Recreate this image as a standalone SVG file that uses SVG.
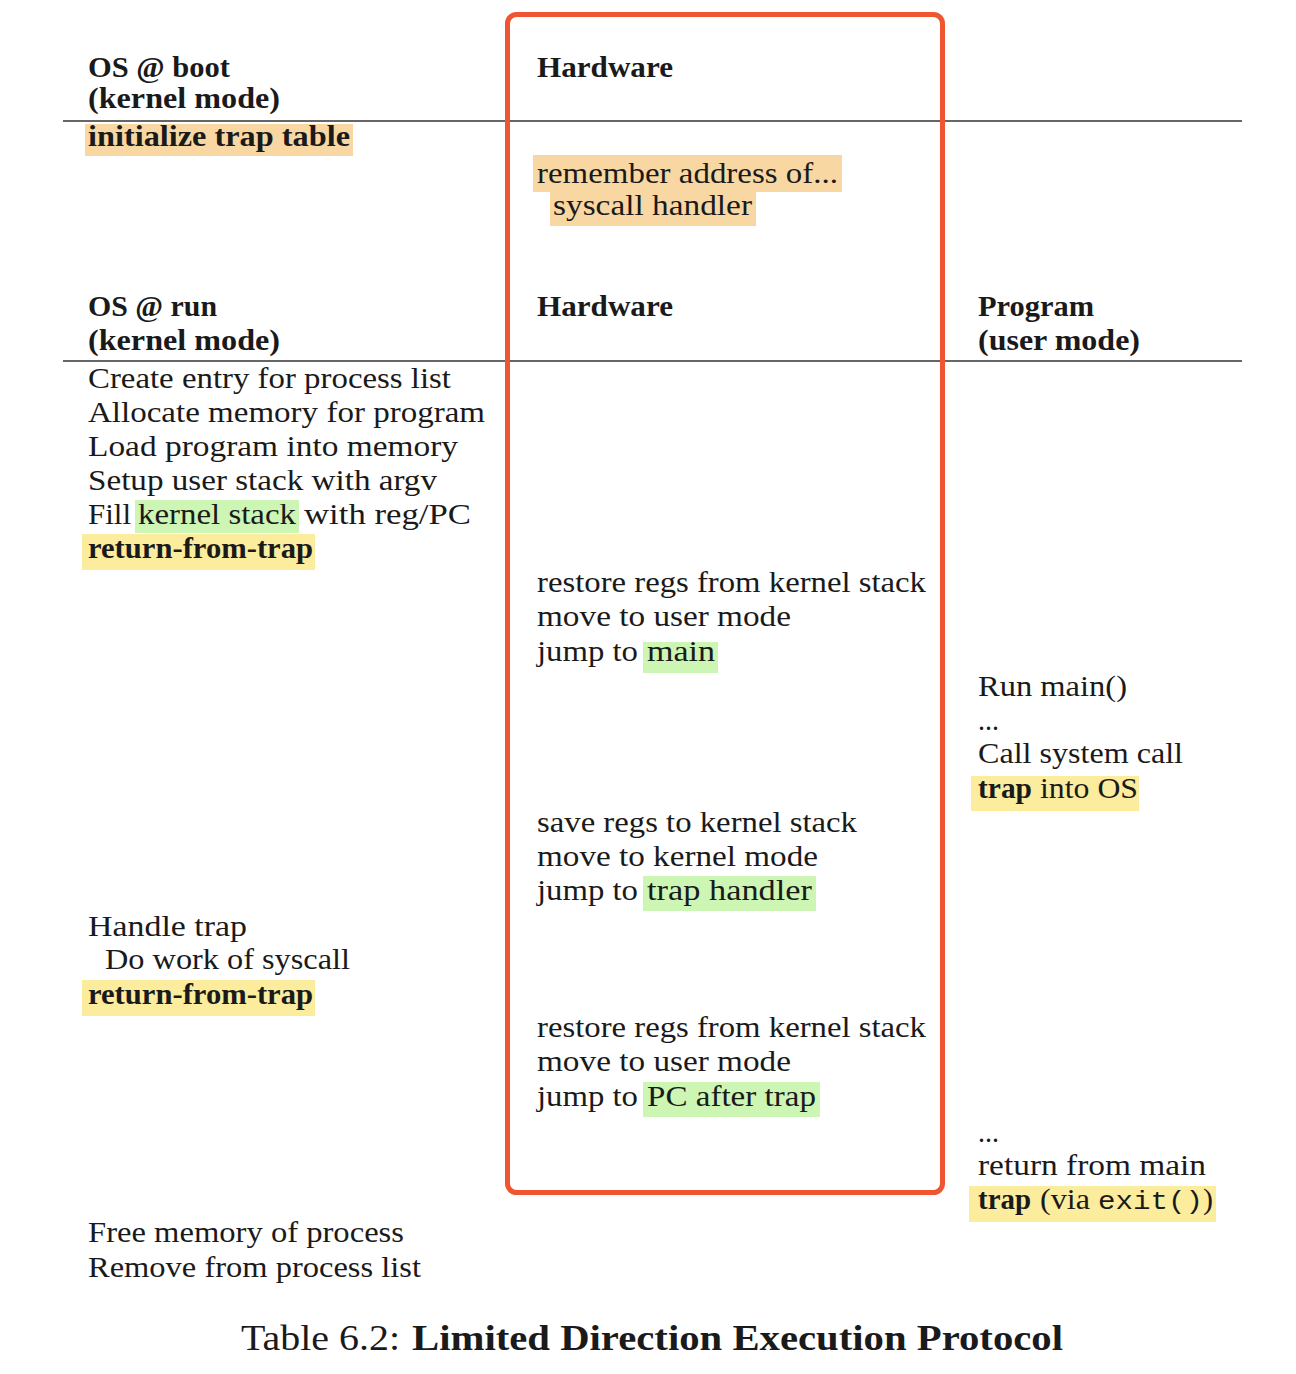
<svg xmlns="http://www.w3.org/2000/svg" width="1296" height="1374" viewBox="0 0 1296 1374">
<style>
text{font-family:"Liberation Serif","DejaVu Serif",serif;font-size:29px;fill:#1a1a1a}
.b{font-weight:bold}
.m{font-family:"Liberation Mono",monospace;font-size:26px}
.rule{stroke:#333;stroke-width:1.6}
.or{fill:#F8D7A3}.ye{fill:#FCEC9E}.gr{fill:#CDF5B3}
.cap{font-size:35px}
</style>
<rect width="1296" height="1374" fill="#fff"/>
<g id="rules">
<line class="rule" x1="63" y1="121" x2="1242" y2="121"/>
<line class="rule" x1="63" y1="361" x2="1242" y2="361"/>
</g>
<g id="highlights">
<rect class="or" x="85" y="124" width="268" height="32"/>
<rect class="or" x="533" y="155" width="309" height="37"/>
<rect class="or" x="550" y="192" width="206" height="34"/>
<rect class="gr" x="135" y="500" width="164" height="33"/>
<rect class="ye" x="82" y="534" width="233" height="36"/>
<rect class="gr" x="643" y="642" width="75" height="31"/>
<rect class="ye" x="971" y="776" width="168" height="35"/>
<rect class="gr" x="643" y="876" width="173" height="35"/>
<rect class="ye" x="82" y="980" width="233" height="36"/>
<rect class="gr" x="643" y="1082" width="177" height="35"/>
<rect class="ye" x="969" y="1186" width="247" height="36"/>
</g>
<g id="os-boot">
<text class="b" x="88" y="77" textLength="142" lengthAdjust="spacingAndGlyphs">OS @ boot</text>
<text class="b" x="88" y="108" textLength="192" lengthAdjust="spacingAndGlyphs">(kernel mode)</text>
<text class="b" x="88" y="146" textLength="262" lengthAdjust="spacingAndGlyphs">initialize trap table</text>
</g>
<g id="hw-boot">
<text class="b" x="537" y="77" textLength="136" lengthAdjust="spacingAndGlyphs">Hardware</text>
<text x="537" y="183" textLength="301" lengthAdjust="spacingAndGlyphs">remember address of...</text>
<text x="553" y="215" textLength="199" lengthAdjust="spacingAndGlyphs">syscall handler</text>
</g>
<g id="os-run">
<text class="b" x="88" y="316" textLength="129" lengthAdjust="spacingAndGlyphs">OS @ run</text>
<text class="b" x="88" y="350" textLength="192" lengthAdjust="spacingAndGlyphs">(kernel mode)</text>
<text x="88" y="388" textLength="363" lengthAdjust="spacingAndGlyphs">Create entry for process list</text>
<text x="88" y="422" textLength="397" lengthAdjust="spacingAndGlyphs">Allocate memory for program</text>
<text x="88" y="456" textLength="370" lengthAdjust="spacingAndGlyphs">Load program into memory</text>
<text x="88" y="490" textLength="349" lengthAdjust="spacingAndGlyphs">Setup user stack with argv</text>
<text x="88" y="524" textLength="43" lengthAdjust="spacingAndGlyphs">Fill</text>
<text x="138" y="524" textLength="158" lengthAdjust="spacingAndGlyphs">kernel stack</text>
<text x="304" y="524" textLength="167" lengthAdjust="spacingAndGlyphs">with reg/PC</text>
<text class="b" x="88" y="558" textLength="225" lengthAdjust="spacingAndGlyphs">return-from-trap</text>
<text x="88" y="936" textLength="159" lengthAdjust="spacingAndGlyphs">Handle trap</text>
<text x="105" y="969" textLength="245" lengthAdjust="spacingAndGlyphs">Do work of syscall</text>
<text class="b" x="88" y="1004" textLength="225" lengthAdjust="spacingAndGlyphs">return-from-trap</text>
<text x="88" y="1242" textLength="316" lengthAdjust="spacingAndGlyphs">Free memory of process</text>
<text x="88" y="1277" textLength="333" lengthAdjust="spacingAndGlyphs">Remove from process list</text>
</g>
<g id="hw-run">
<text class="b" x="537" y="316" textLength="136" lengthAdjust="spacingAndGlyphs">Hardware</text>
<text x="537" y="592" textLength="389" lengthAdjust="spacingAndGlyphs">restore regs from kernel stack</text>
<text x="537" y="626" textLength="254" lengthAdjust="spacingAndGlyphs">move to user mode</text>
<text x="537" y="661" textLength="101" lengthAdjust="spacingAndGlyphs">jump to</text>
<text x="647" y="661" textLength="68" lengthAdjust="spacingAndGlyphs">main</text>
<text x="537" y="832" textLength="320" lengthAdjust="spacingAndGlyphs">save regs to kernel stack</text>
<text x="537" y="866" textLength="281" lengthAdjust="spacingAndGlyphs">move to kernel mode</text>
<text x="537" y="900" textLength="101" lengthAdjust="spacingAndGlyphs">jump to</text>
<text x="647" y="900" textLength="165" lengthAdjust="spacingAndGlyphs">trap handler</text>
<text x="537" y="1037" textLength="389" lengthAdjust="spacingAndGlyphs">restore regs from kernel stack</text>
<text x="537" y="1071" textLength="254" lengthAdjust="spacingAndGlyphs">move to user mode</text>
<text x="537" y="1106" textLength="101" lengthAdjust="spacingAndGlyphs">jump to</text>
<text x="647" y="1106" textLength="169" lengthAdjust="spacingAndGlyphs">PC after trap</text>
</g>
<g id="program">
<text class="b" x="978" y="316" textLength="116" lengthAdjust="spacingAndGlyphs">Program</text>
<text class="b" x="978" y="350" textLength="162" lengthAdjust="spacingAndGlyphs">(user mode)</text>
<text x="978" y="696" textLength="149" lengthAdjust="spacingAndGlyphs">Run main()</text>
<text x="978" y="730" textLength="21" lengthAdjust="spacingAndGlyphs">...</text>
<text x="978" y="763" textLength="205" lengthAdjust="spacingAndGlyphs">Call system call</text>
<text class="b" x="978" y="798" textLength="54" lengthAdjust="spacingAndGlyphs">trap</text>
<text x="1040" y="798" textLength="98" lengthAdjust="spacingAndGlyphs">into OS</text>
<text x="978" y="1142" textLength="21" lengthAdjust="spacingAndGlyphs">...</text>
<text x="978" y="1175" textLength="228" lengthAdjust="spacingAndGlyphs">return from main</text>
<text class="b" x="978" y="1209" textLength="53" lengthAdjust="spacingAndGlyphs">trap</text>
<text x="1040" y="1209" textLength="50" lengthAdjust="spacingAndGlyphs">(via</text>
<text class="m" x="1098" y="1209" textLength="105" lengthAdjust="spacingAndGlyphs">exit()</text>
<text x="1203" y="1209" textLength="10" lengthAdjust="spacingAndGlyphs">)</text>
</g>
<g id="hardware-box">
<rect x="507.5" y="14.5" width="435" height="1178" rx="9" fill="none" stroke="#EE5530" stroke-width="5"/>
</g>
<g id="caption">
<text class="cap" x="241" y="1350" textLength="159" lengthAdjust="spacingAndGlyphs">Table 6.2:</text>
<text class="cap b" x="412" y="1350" textLength="651" lengthAdjust="spacingAndGlyphs">Limited Direction Execution Protocol</text>
</g>
</svg>
